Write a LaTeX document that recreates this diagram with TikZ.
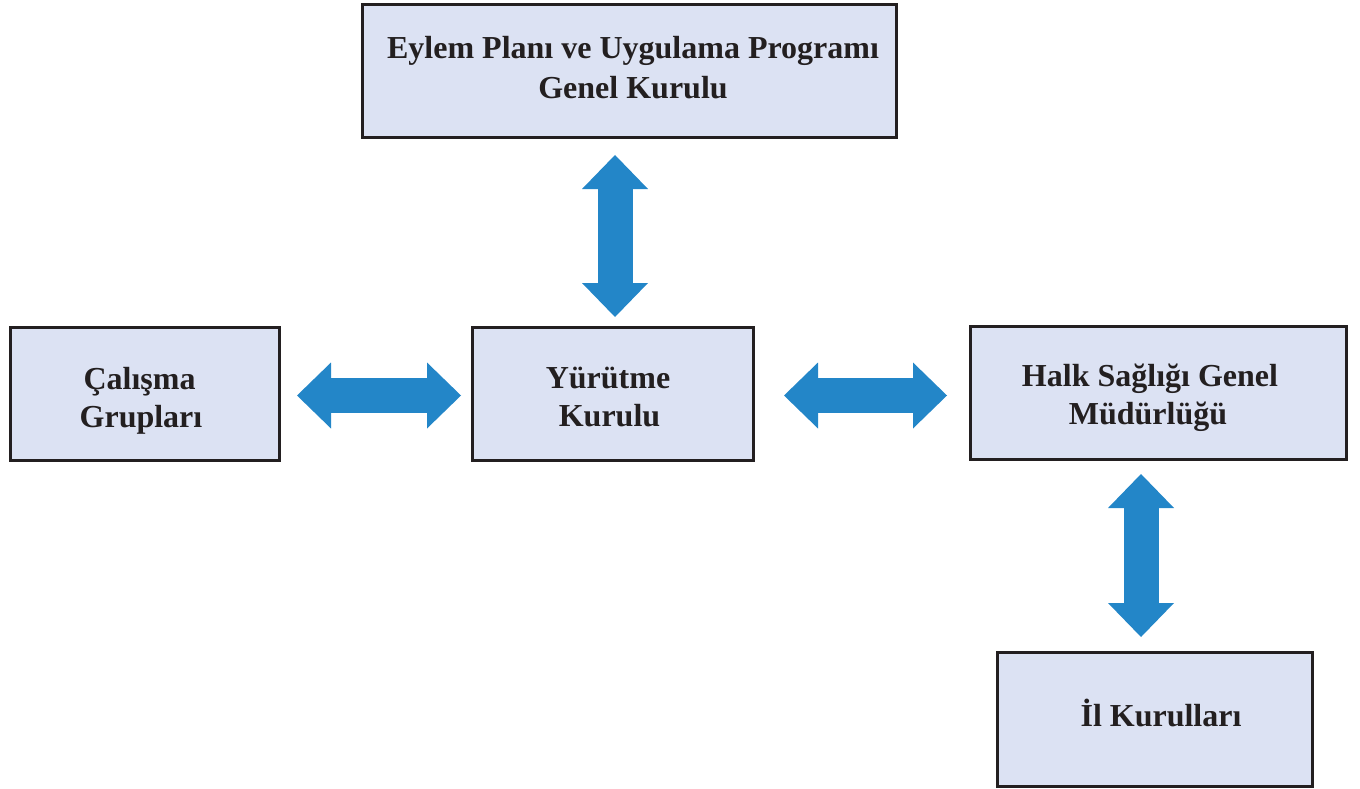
\documentclass[tikz,border=0pt]{standalone}
\usepackage{fontspec}
\setmainfont{Liberation Serif}
\usetikzlibrary{arrows.meta}
\definecolor{boxfill}{HTML}{DCE2F3}
\definecolor{boxline}{HTML}{231F20}
\definecolor{arrowblue}{HTML}{2386C8}
\tikzset{
  orgbox/.style={draw=boxline, fill=boxfill, line width=3pt, rectangle, inner sep=0pt},
  boxtext/.style={anchor=base, inner sep=0pt, text=boxline,
    font=\bfseries\fontsize{32}{38}\selectfont},
  bigarrow/.style={draw=arrowblue, line width=35pt,
    {Triangle[length=34pt,width=66pt,line width=0pt]}-{Triangle[length=34pt,width=66pt,line width=0pt]}}
}
\begin{document}
\begin{tikzpicture}[x=1pt,y=-1pt]
\useasboundingbox (0,0) rectangle (1360,789);
% boxes
\node[orgbox, minimum width=534pt, minimum height=133pt] (top) at (629.5,71) {};
\node[orgbox, minimum width=269pt, minimum height=133pt] (cal) at (145,394) {};
\node[orgbox, minimum width=281pt, minimum height=133pt] (yur) at (613,394) {};
\node[orgbox, minimum width=376pt, minimum height=133pt] (halk) at (1158.5,393) {};
\node[orgbox, minimum width=315pt, minimum height=134pt] (il) at (1155,719.5) {};
% texts
\node[boxtext] (top1) at (633,59) {Eylem Planı ve Uygulama Programı};
\node[boxtext] (top2) at (633,99) {Genel Kurulu};
\node[boxtext] (cal1) at (139.5,389) {Çalışma};
\node[boxtext] (cal2) at (141,427) {Grupları};
\node[boxtext] (yur1) at (608,388.5) {Yürütme};
\node[boxtext] (yur2) at (609.5,426.5) {Kurulu};
\node[boxtext] (halk1) at (1150,386) {Halk Sağlığı Genel};
\node[boxtext] (halk2) at (1148,424) {Müdürlüğü};
\node[boxtext] (il1) at (1161,726) {İl Kurulları};
% arrows
\coordinate (ax1) at (615,0);
\coordinate (ay1) at (0,395.5);
\coordinate (ax2) at (1141,0);
\draw[bigarrow, shorten <=16pt, shorten >=9pt] (top.south -| ax1) -- (yur.north -| ax1);
\draw[bigarrow, shorten <=16pt, shorten >=10pt] (cal.east |- ay1) -- (yur.west |- ay1);
\draw[bigarrow, shorten <=29pt, shorten >=22pt] (yur.east |- ay1) -- (halk.west |- ay1);
\draw[bigarrow, shorten <=13pt, shorten >=14pt] (halk.south -| ax2) -- (il.north -| ax2);
\end{tikzpicture}
\end{document}
